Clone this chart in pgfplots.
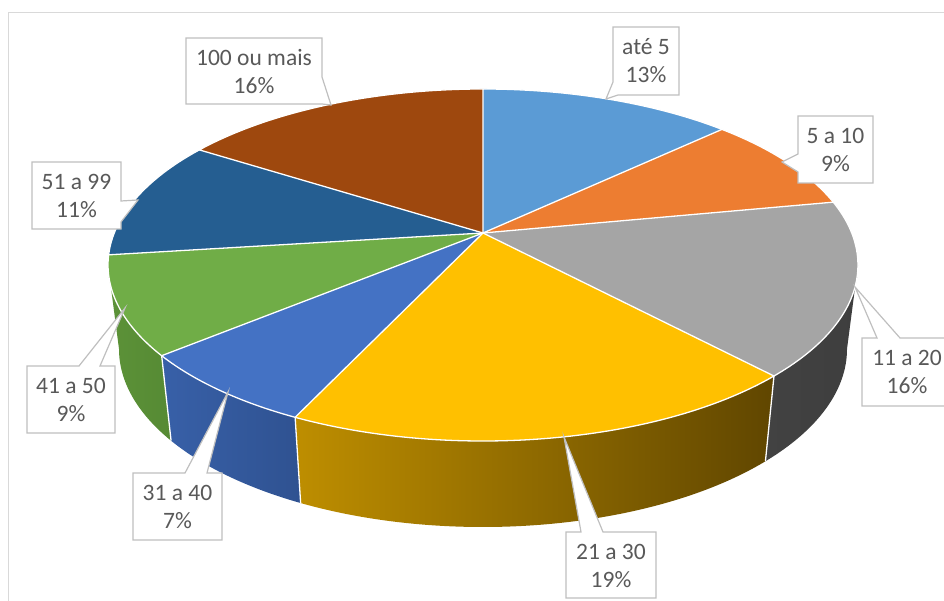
\documentclass[border=0pt]{standalone}
\usepackage{pgfplots}
\usepackage{pgfplotstable}
\pgfplotsset{compat=1.18}
\usepackage{fontspec}
\setmainfont{Carlito}
\definecolor{c0}{HTML}{5B9BD5}
\definecolor{c1}{HTML}{ED7D31}
\definecolor{c2}{HTML}{A5A5A5}
\definecolor{c3}{HTML}{FFC000}
\definecolor{c4}{HTML}{4472C4}
\definecolor{c5}{HTML}{70AD47}
\definecolor{c6}{HTML}{255E91}
\definecolor{c7}{HTML}{9E480E}
\definecolor{sLa}{HTML}{3F6F9A}\definecolor{sRa}{HTML}{3F6F9A}
\definecolor{sLb}{HTML}{A85820}\definecolor{sRb}{HTML}{A85820}
\definecolor{sLc}{RGB}{66,66,66}\definecolor{sRc}{RGB}{62,62,62}
\definecolor{sLd}{RGB}{190,142,0}\definecolor{sRd}{RGB}{96,70,0}
\definecolor{sLe}{RGB}{56,96,168}\definecolor{sRe}{RGB}{47,82,145}
\definecolor{sLf}{RGB}{92,146,56}\definecolor{sRf}{RGB}{86,138,52}
\definecolor{sLg}{HTML}{1B4468}\definecolor{sRg}{HTML}{1B4468}
\definecolor{sLh}{HTML}{73340A}\definecolor{sRh}{HTML}{73340A}
\definecolor{lbltext}{HTML}{595959}
\definecolor{lblline}{HTML}{BFBFBF}
\definecolor{framec}{HTML}{D9D9D9}

\pgfplotstableread{
idx value
1 13
2 9
3 16
4 19
5 7
6 9
7 11
8 16
}\piedata

% geometry (1 axis unit = 1pt)
\def\AX{483}\def\AY{368}
\def\TX{483}\def\TY{336}\def\TRX{375}\def\TRY{176}
\def\BX{483}\def\BY{252}\def\BRX{364}\def\BRY{178}
\def\PA{368.7}\def\PB{170.2}\def\PU{0.1818}

\newcommand\phiof[2]{%
  \pgfmathsetmacro\tmpden{1+\PU*sin(#1)}%
  \pgfmathsetmacro\tmpc{\PA*cos(#1)/\tmpden/\TRX}%
  \pgfmathsetmacro\tmps{(\PB*sin(#1)/\tmpden+\AY-\TY)/\TRY}%
  \pgfmathsetmacro\tmpraw{atan2(\tmps,\tmpc)}%
  \pgfmathsetmacro\tmpdiff{\tmpraw-(#1)+540}%
  \pgfmathsetmacro\tmpfl{floor(\tmpdiff/360)}%
  \pgfmathsetmacro#2{#1+\tmpdiff-360*\tmpfl-180}%
}

\begin{document}
\begin{tikzpicture}
\begin{axis}[x=1pt,y=1pt,xmin=0,xmax=944,ymin=0,ymax=601,hide axis,clip=false]
\path (axis cs:0,0) rectangle (axis cs:944,601);
\draw[framec,line width=1pt,overlay] (axis cs:8,-50) -- (axis cs:8,588) -- (axis cs:1000,588);
\pgfplotsextra{
  % side walls
  \xdef\cum{0}
  \foreach \i/\sl in {0/a,1/b,2/c,3/d,4/e,5/f,6/g,7/h}{
    \pgfplotstablegetelem{\i}{value}\of\piedata
    \pgfmathsetmacro\val{\pgfplotsretval}
    \pgfmathsetmacro\thS{90-3.6*\cum}
    \pgfmathsetmacro\thE{90-3.6*(\cum+\val)}
    \pgfmathsetmacro\newcum{\cum+\val}
    \xdef\cum{\newcum}
    \phiof{\thS}{\phS}
    \phiof{\thE}{\phE}
    \pgfmathsetmacro\angA{min(\phS,0)}
    \pgfmathsetmacro\angB{max(\phE,-180)}
    \pgfmathtruncatemacro\vis{(\angA>\angB+0.01)}
    \ifnum\vis=1
      \pgfmathsetmacro\pax{\TX+\TRX*cos(\angA)}
      \pgfmathsetmacro\pay{\TY+\TRY*sin(\angA)}
      \pgfmathsetmacro\pbx{\BX+\BRX*cos(\angB)}
      \pgfmathsetmacro\pby{\BY+\BRY*sin(\angB)}
      \path[left color=sL\sl, right color=sR\sl]
        (axis cs:\pax,\pay) arc[start angle=\angA, end angle=\angB, x radius=\TRX pt, y radius=\TRY pt]
        -- (axis cs:\pbx,\pby) arc[start angle=\angB, end angle=\angA, x radius=\BRX pt, y radius=\BRY pt] -- cycle;
    \fi
  }
  % white boundary lines on the side
  \xdef\cum{0}
  \foreach \i in {0,...,7}{
    \pgfplotstablegetelem{\i}{value}\of\piedata
    \pgfmathsetmacro\val{\pgfplotsretval}
    \pgfmathsetmacro\thS{90-3.6*\cum}
    \pgfmathsetmacro\newcum{\cum+\val}
    \xdef\cum{\newcum}
    \phiof{\thS}{\phS}
    \pgfmathtruncatemacro\vis{(\phS<-0.5)*(\phS>-179.5)}
    \ifnum\vis=1
      \pgfmathsetmacro\pax{\TX+\TRX*cos(\phS)}
      \pgfmathsetmacro\pay{\TY+\TRY*sin(\phS)}
      \pgfmathsetmacro\pbx{\BX+\BRX*cos(\phS)}
      \pgfmathsetmacro\pby{\BY+\BRY*sin(\phS)}
      \draw[white,line width=1.3pt] (axis cs:\pax,\pay) -- (axis cs:\pbx,\pby);
    \fi
  }
  % top surface
  \xdef\cum{0}
  \foreach \i in {0,...,7}{
    \pgfplotstablegetelem{\i}{value}\of\piedata
    \pgfmathsetmacro\val{\pgfplotsretval}
    \pgfmathsetmacro\thS{90-3.6*\cum}
    \pgfmathsetmacro\thE{90-3.6*(\cum+\val)}
    \pgfmathsetmacro\newcum{\cum+\val}
    \xdef\cum{\newcum}
    \phiof{\thS}{\phS}
    \phiof{\thE}{\phE}
    \pgfmathsetmacro\pax{\TX+\TRX*cos(\phS)}
    \pgfmathsetmacro\pay{\TY+\TRY*sin(\phS)}
    \fill[c\i] (axis cs:\AX,\AY) -- (axis cs:\pax,\pay)
      arc[start angle=\phS, end angle=\phE, x radius=\TRX pt, y radius=\TRY pt] -- cycle;
  }
  \xdef\cum{0}
  \foreach \i in {0,...,7}{
    \pgfplotstablegetelem{\i}{value}\of\piedata
    \pgfmathsetmacro\val{\pgfplotsretval}
    \pgfmathsetmacro\thS{90-3.6*\cum}
    \pgfmathsetmacro\thE{90-3.6*(\cum+\val)}
    \pgfmathsetmacro\newcum{\cum+\val}
    \xdef\cum{\newcum}
    \phiof{\thS}{\phS}
    \phiof{\thE}{\phE}
    \pgfmathsetmacro\pax{\TX+\TRX*cos(\phS)}
    \pgfmathsetmacro\pay{\TY+\TRY*sin(\phS)}
    \draw[white,line width=1.3pt,line join=round] (axis cs:\AX,\AY) -- (axis cs:\pax,\pay)
      arc[start angle=\phS, end angle=\phE, x radius=\TRX pt, y radius=\TRY pt];
  }
}
% callouts
\tikzset{callout/.style={fill=white,draw=lblline,line width=1.2pt,line join=miter},
  lbl/.style={anchor=base,inner sep=0pt,text=lbltext,font=\fontsize{23.5}{28}\selectfont}}
\path[callout] (axis cs:613,574) -- (axis cs:679,574) -- (axis cs:679,506) -- (axis cs:618,506) -- (axis cs:606,502) -- (axis cs:613,519) -- cycle;
\node[lbl] at (axis cs:646,546) {até 5};
\node[lbl] at (axis cs:646,518) {13\%};
\path[callout] (axis cs:798,485) -- (axis cs:873,485) -- (axis cs:873,418) -- (axis cs:798,418) -- (axis cs:798,429) -- (axis cs:782,439) -- (axis cs:798,447) -- cycle;
\node[lbl] at (axis cs:835.5,457) {5 a 10};
\node[lbl] at (axis cs:835.5,429) {9\%};
\path[callout,overlay] (axis cs:862,263) -- (axis cs:877,263) -- (axis cs:855,314) -- (axis cs:900,263) -- (axis cs:960,263) -- (axis cs:960,195) -- (axis cs:862,195) -- cycle;
\node[lbl] at (axis cs:907,235) {11 a 20};
\node[lbl] at (axis cs:907,207) {16\%};
\path[callout] (axis cs:566,69) -- (axis cs:581,69) -- (axis cs:564,164) -- (axis cs:603,69) -- (axis cs:656,69) -- (axis cs:656,3) -- (axis cs:566,3) -- cycle;
\node[lbl] at (axis cs:611,41) {21 a 30};
\node[lbl] at (axis cs:611,13) {19\%};
\path[callout] (axis cs:133,128) -- (axis cs:185,128) -- (axis cs:228,209) -- (axis cs:207,128) -- (axis cs:222,128) -- (axis cs:222,61) -- (axis cs:133,61) -- cycle;
\node[lbl] at (axis cs:177.5,100) {31 a 40};
\node[lbl] at (axis cs:177.5,72) {7\%};
\path[callout] (axis cs:27,235) -- (axis cs:79,235) -- (axis cs:125,293) -- (axis cs:100,235) -- (axis cs:115,235) -- (axis cs:115,168) -- (axis cs:27,168) -- cycle;
\node[lbl] at (axis cs:71,207) {41 a 50};
\node[lbl] at (axis cs:71,179) {9\%};
\path[callout] (axis cs:32,439) -- (axis cs:121,439) -- (axis cs:121,400) -- (axis cs:138,401) -- (axis cs:121,379) -- (axis cs:121,372) -- (axis cs:32,372) -- cycle;
\node[lbl] at (axis cs:76.5,411) {51 a 99};
\node[lbl] at (axis cs:76.5,383) {11\%};
\path[callout] (axis cs:186,563) -- (axis cs:322,563) -- (axis cs:322,524) -- (axis cs:331,496) -- (axis cs:322,497) -- (axis cs:186,497) -- cycle;
\node[lbl] at (axis cs:254,535) {100 ou mais};
\node[lbl] at (axis cs:254,507) {16\%};
\end{axis}
\end{tikzpicture}
\end{document}
